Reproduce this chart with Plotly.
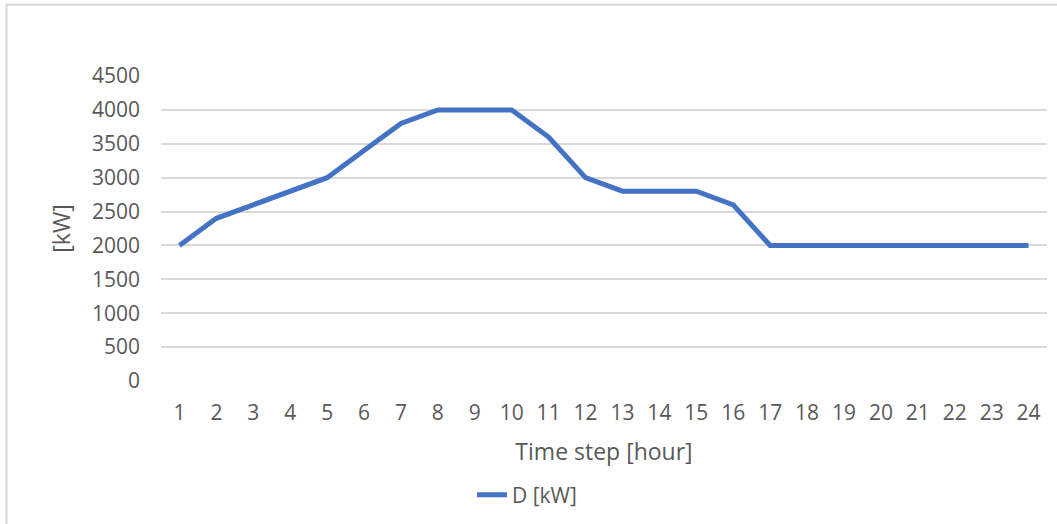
import plotly.graph_objects as go

hours = [str(h) for h in range(1, 25)]
demand = [2000, 2400, 2600, 2800, 3000, 3400, 3800, 4000, 4000, 4000, 3600, 3000,
          2800, 2800, 2800, 2600, 2000, 2000, 2000, 2000, 2000, 2000, 2000, 2000]
y_ticks = list(range(0, 4501, 500))

FONT = "Open Sans"
GREY = "#595959"

fig = go.Figure()
fig.add_trace(go.Scatter(x=hours, y=demand, mode="lines", name="D [kW]",
                         line=dict(color="#4472C4", width=5)))

L, R, T, B = 161, 10, 76, 142
W, H = 1057, 524
pw = W - L - R
ph = H - T - B

fig.update_layout(
    width=W, height=H,
    margin=dict(l=L, r=R, t=T, b=B),
    paper_bgcolor="white", plot_bgcolor="white",
    font=dict(family=FONT, size=21, color=GREY),
    showlegend=True,
    legend=dict(orientation="h", x=(472 - L) / pw, xanchor="left",
                y=(H - B - 495) / ph, yanchor="middle",
                font=dict(size=21, color=GREY), bgcolor="rgba(0,0,0,0)"),
    xaxis=dict(type="category", range=[-0.5, 23.5], showgrid=False, zeroline=False,
               showline=False, ticks="", tickfont=dict(size=21, color=GREY),
               ticklabelstandoff=17,
               title=dict(text="Time step [hour]", font=dict(size=23, color=GREY), standoff=18)),
    yaxis=dict(range=[0, 4500], tickvals=y_ticks, showgrid=True, gridcolor="#d9d9d9",
               gridwidth=1.5, zeroline=False, showline=False, ticks="",
               tickfont=dict(size=21, color=GREY), ticklabelstandoff=20,
               title=dict(text="[kW]", font=dict(size=23, color=GREY), standoff=14)),
    shapes=[dict(type="rect", xref="paper", yref="paper",
                 x0=(6.5 - L) / pw, x1=(1065 - L) / pw,
                 y0=(H - B - 540) / ph, y1=(H - B - 4.5) / ph,
                 line=dict(color="#d9d9d9", width=2), fillcolor="rgba(0,0,0,0)", layer="below")],
)

fig.write_html("out.html")
